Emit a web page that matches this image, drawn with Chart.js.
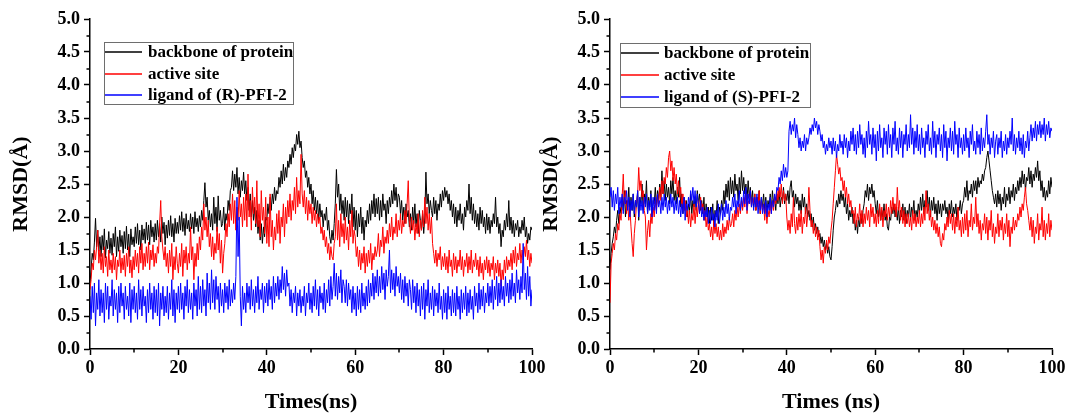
<!DOCTYPE html>
<html>
<head>
<meta charset="utf-8">
<script src="https://cdn.jsdelivr.net/npm/chart.js@4.4.1/dist/chart.umd.min.js"></script>
<style>
  body { margin: 0; background: #fff; width: 1069px; height: 416px; overflow: hidden; position: relative; }
  canvas { position: absolute; top: 0; }
  #leftChart { left: 0; }
  #rightChart { left: 530px; }
</style>
</head>
<body>
<canvas id="leftChart" width="560" height="416"></canvas>
<canvas id="rightChart" width="539" height="416"></canvas>
<script>
// sampling time in ns, one frame every 0.25 ns
const times = Array.from({ length: 401 }, (_, i) => i * 0.25);

const seriesNames = ['backbone of protein', 'active site'];
const seriesColors = ['#000000', '#ff0000', '#0000ff'];

// (R)-PFI-2 run
const leftBackbone = [
  1.00, 1.20, 1.45, 1.35, 1.62, 1.98, 1.55, 1.80, 1.48, 1.70,
  1.40, 1.72, 1.50, 1.82, 1.38, 1.65, 1.52, 1.78, 1.45, 1.68,
  1.42, 1.75, 1.55, 1.85, 1.40, 1.70, 1.48, 1.80, 1.55, 1.72,
  1.45, 1.78, 1.52, 1.86, 1.50, 1.74, 1.40, 1.82, 1.58, 1.70,
  1.55, 1.85, 1.60, 1.90, 1.58, 1.80, 1.50, 1.88, 1.65, 1.82,
  1.60, 1.92, 1.65, 1.88, 1.58, 1.95, 1.70, 1.85, 1.62, 1.90,
  1.65, 1.95, 1.70, 1.90, 1.62, 2.00, 1.75, 1.92, 1.58, 1.88,
  1.68, 1.95, 1.72, 2.02, 1.70, 1.90, 1.62, 1.98, 1.75, 1.92,
  1.75, 2.02, 1.80, 2.08, 1.78, 1.98, 1.72, 2.05, 1.82, 1.95,
  1.78, 2.05, 1.82, 2.00, 1.75, 2.08, 1.85, 1.98, 1.78, 2.02,
  1.85, 2.10, 1.95, 2.25, 2.52, 2.15, 2.30, 1.95, 2.10, 1.85,
  2.05, 1.80, 2.30, 1.90, 2.15, 1.78, 2.32, 1.95, 2.10, 1.85,
  1.90, 2.15, 1.80, 2.05, 1.95, 2.25, 2.10, 2.40, 2.45, 2.70,
  2.40, 2.65, 2.45, 2.75, 2.35, 2.60, 2.30, 2.55, 2.40, 2.68,
  2.35, 2.55, 2.25, 2.45, 2.10, 2.35, 2.00, 2.25, 1.95, 2.15,
  1.85, 2.10, 1.75, 1.95, 1.65, 1.90, 1.60, 1.85, 1.70, 2.00,
  1.95, 2.20, 2.05, 2.30, 2.10, 2.35, 2.20, 2.45, 2.25, 2.40,
  2.35, 2.60, 2.45, 2.70, 2.50, 2.80, 2.55, 2.75, 2.60, 2.85,
  2.75, 2.95, 2.80, 3.05, 2.90, 3.10, 3.00, 3.25, 3.10, 3.30,
  3.05, 3.15, 2.90, 2.75, 2.85, 2.60, 2.70, 2.45, 2.60, 2.35,
  2.50, 2.20, 2.40, 2.10, 2.30, 2.05, 2.25, 1.95, 2.20, 2.00,
  2.10, 1.85, 2.05, 1.95, 2.15, 1.80, 1.95, 1.70, 1.60, 1.80,
  1.65, 1.90, 2.20, 2.72, 2.30, 2.50, 2.10, 2.35, 2.05, 2.25,
  1.95, 2.30, 2.00, 2.25, 1.90, 2.20, 2.05, 2.35, 1.85, 2.15,
  1.80, 2.10, 1.70, 2.05, 1.85, 2.15, 1.75, 2.00, 1.65, 1.95,
  1.85, 2.10, 1.90, 2.20, 1.95, 2.25, 2.05, 2.35, 2.00, 2.28,
  2.05, 2.30, 1.95, 2.25, 2.00, 2.35, 2.10, 2.20, 1.90, 2.25,
  2.05, 2.30, 2.15, 2.40, 2.20, 2.50, 2.25, 2.45, 2.15, 2.35,
  2.30, 2.05, 2.25, 1.95, 2.15, 1.90, 2.20, 2.00, 2.10, 1.85,
  2.05, 1.80, 2.15, 1.90, 2.20, 1.85, 2.05, 1.75, 2.10, 1.95,
  1.80, 2.05, 1.75, 2.00, 2.68, 2.20, 2.35, 2.05, 2.25, 2.10,
  2.00, 2.30, 2.05, 2.25, 1.95, 2.20, 2.10, 2.35, 2.15, 2.40,
  2.25, 2.45, 2.30, 2.40, 2.20, 2.35, 2.10, 2.25, 2.00, 2.20,
  1.90, 2.15, 1.85, 2.10, 1.95, 2.20, 1.90, 2.05, 1.80, 2.15,
  2.00, 2.25, 2.10, 2.50, 2.05, 2.30, 1.95, 2.20, 1.90, 2.10,
  1.85, 2.05, 1.80, 2.15, 1.90, 2.10, 1.85, 2.00, 1.75, 2.05,
  1.80, 2.00, 1.75, 1.95, 1.85, 2.05, 1.90, 2.30, 1.85, 2.00,
  1.75, 1.90, 1.55, 1.80, 1.70, 1.95, 1.80, 2.05, 1.85, 2.25,
  1.80, 2.00, 1.75, 1.95, 1.70, 1.90, 1.80, 1.95, 1.70, 1.85,
  1.75, 1.95, 1.80, 2.00, 1.70, 1.85, 1.60, 1.75, 1.65, 1.85,
  1.80
];
const leftActive = [
  0.90, 1.05, 1.30, 1.20, 1.50, 1.35, 1.55, 1.80, 1.30, 1.50,
  1.20, 1.45, 1.15, 1.55, 1.25, 1.40, 1.10, 1.50, 1.20, 1.35,
  1.15, 1.45, 1.20, 1.40, 1.05, 1.35, 1.25, 1.50, 1.15, 1.38,
  1.20, 1.42, 1.10, 1.45, 1.25, 1.55, 1.15, 1.35, 1.08, 1.40,
  1.20, 1.50, 1.25, 1.45, 1.15, 1.55, 1.30, 1.60, 1.20, 1.45,
  1.25, 1.55, 1.30, 1.62, 1.20, 1.50, 1.35, 1.58, 1.25, 1.45,
  1.30, 1.55, 1.45, 1.90, 2.25, 1.70, 1.50, 1.35, 1.55, 1.25,
  1.45, 1.15, 1.50, 1.25, 1.60, 1.05, 1.40, 1.20, 1.55, 1.30,
  1.15, 1.45, 1.25, 1.60, 1.10, 1.50, 1.30, 1.55, 1.20, 1.45,
  1.30, 1.85, 1.35, 1.55, 1.05, 1.45, 1.25, 1.60, 1.35, 1.70,
  1.50, 1.85, 1.65, 2.20, 1.80, 2.00, 1.70, 1.95, 1.55, 1.75,
  1.40, 1.70, 1.35, 1.60, 1.45, 1.85, 1.50, 1.75, 1.30, 1.65,
  1.15, 1.45, 1.60, 1.90, 1.70, 2.05, 1.85, 2.20, 1.95, 2.35,
  1.90, 2.25, 1.80, 2.15, 1.95, 2.40, 2.00, 2.20, 1.85, 2.30,
  1.95, 2.35, 1.85, 2.65, 2.00, 2.25, 1.80, 2.45, 2.05, 2.30,
  1.90, 2.55, 1.85, 2.20, 1.70, 2.40, 1.95, 2.15, 1.75, 2.30,
  1.60, 2.00, 1.55, 2.35, 1.70, 1.95, 1.50, 1.85, 1.65, 2.05,
  1.75, 2.10, 1.60, 2.00, 1.85, 2.20, 1.70, 2.15, 1.90, 2.25,
  2.00, 2.35, 1.95, 2.25, 2.10, 2.45, 2.05, 2.60, 2.15, 2.40,
  2.20, 2.95, 2.35, 2.15, 2.40, 2.05, 2.30, 1.95, 2.25, 2.05,
  2.20, 1.90, 2.15, 1.95, 2.10, 1.85, 2.05, 1.90, 2.00, 1.75,
  1.85, 1.65, 1.80, 1.55, 1.70, 1.45, 1.60, 1.35, 1.55, 1.40,
  1.35, 1.60, 1.70, 2.20, 1.65, 1.95, 1.55, 2.05, 1.70, 1.90,
  1.60, 2.00, 1.65, 1.85, 1.50, 1.95, 1.70, 2.10, 1.60, 1.80,
  1.70, 1.40, 1.55, 1.25, 1.50, 1.20, 1.45, 1.30, 1.55, 1.15,
  1.45, 1.25, 1.50, 1.30, 1.60, 1.20, 1.45, 1.35, 1.55, 1.40,
  1.50, 1.75, 1.40, 1.65, 1.55, 1.85, 1.45, 1.70, 1.60, 1.80,
  1.60, 1.90, 1.70, 2.00, 1.65, 1.85, 1.75, 2.05, 1.70, 1.95,
  1.80, 2.05, 1.75, 1.95, 1.85, 2.10, 1.90, 2.20, 2.55, 1.95,
  1.75, 2.00, 1.80, 1.95, 1.65, 1.90, 1.75, 2.05, 1.70, 1.95,
  1.80, 2.10, 1.85, 2.30, 1.90, 2.15, 1.80, 2.05, 1.75, 2.00,
  1.60, 1.45, 1.30, 1.50, 1.25, 1.45, 1.35, 1.55, 1.20, 1.40,
  1.25, 1.45, 1.20, 1.40, 1.15, 1.50, 1.25, 1.35, 1.10, 1.45,
  1.20, 1.40, 1.15, 1.35, 1.25, 1.50, 1.20, 1.40, 1.10, 1.35,
  1.25, 1.45, 1.15, 1.40, 1.20, 1.50, 1.15, 1.35, 1.25, 1.45,
  1.20, 1.35, 1.10, 1.40, 1.15, 1.30, 1.05, 1.35, 1.20, 1.40,
  1.15, 1.35, 1.10, 1.30, 1.20, 1.40, 1.05, 1.30, 1.15, 1.35,
  1.10, 1.30, 0.95, 1.20, 1.05, 1.35, 1.15, 1.40, 1.20, 1.35,
  1.25, 1.45, 1.20, 1.50, 1.30, 1.55, 1.25, 1.45, 1.35, 1.60,
  1.30, 1.50, 1.35, 1.55, 1.40, 1.65, 1.35, 1.50, 1.25, 1.45,
  1.30
];
const leftLigand = [
  0.80, 0.45, 0.95, 0.55, 1.00, 0.35, 0.85, 0.60, 1.05, 0.50,
  0.90, 0.55, 0.85, 0.40, 1.00, 0.60, 0.95, 0.45, 0.80, 0.65,
  1.05, 0.50, 0.90, 0.60, 0.85, 0.40, 0.95, 0.55, 1.00, 0.65,
  0.85, 0.45, 0.95, 0.60, 0.80, 0.50, 1.00, 0.40, 0.90, 0.60,
  0.95, 0.55, 0.85, 0.45, 1.05, 0.60, 0.90, 0.50, 0.95, 0.65,
  0.80, 0.40, 0.90, 0.55, 1.00, 0.60, 0.85, 0.45, 0.95, 0.55,
  0.90, 0.50, 1.00, 0.35, 0.85, 0.60, 0.95, 0.50, 0.80, 0.55,
  0.95, 0.45, 0.85, 0.60, 1.05, 0.50, 0.90, 0.40, 0.85, 0.60,
  0.95, 0.55, 1.00, 0.60, 0.85, 0.45, 0.95, 0.65, 1.05, 0.55,
  0.90, 0.60, 0.85, 0.45, 1.00, 0.65, 0.90, 0.50, 1.10, 0.60,
  0.95, 0.55, 1.05, 0.65, 0.90, 0.50, 1.15, 0.70, 1.00, 0.60,
  1.20, 0.70, 1.05, 0.60, 1.10, 0.75, 0.95, 0.55, 1.00, 0.65,
  0.90, 0.55, 1.00, 0.70, 0.95, 0.60, 1.05, 0.65, 0.90, 0.70,
  1.00, 0.75, 1.10, 2.30, 1.40, 2.00, 0.80, 0.35, 0.95, 0.60,
  0.85, 0.55, 1.00, 0.70, 0.95, 0.60, 1.05, 0.65, 0.90, 0.55,
  0.95, 0.70, 1.10, 0.60, 0.90, 0.75, 1.00, 0.55, 0.95, 0.70,
  1.00, 0.65, 1.05, 0.75, 0.95, 0.60, 1.10, 0.70, 1.00, 0.80,
  1.10, 0.75, 1.05, 0.85, 1.25, 0.90, 1.15, 0.80, 1.20, 0.95,
  1.00, 0.65, 0.90, 0.55, 0.85, 0.70, 0.95, 0.50, 0.85, 0.65,
  0.90, 0.55, 0.80, 0.65, 0.95, 0.50, 0.85, 0.70, 1.00, 0.60,
  0.85, 0.55, 0.95, 0.65, 1.05, 0.60, 0.90, 0.50, 0.95, 0.70,
  0.85, 0.60, 1.00, 0.55, 0.90, 0.70, 1.05, 0.65, 1.10, 0.75,
  0.95, 1.30, 0.80, 1.15, 0.75, 1.10, 0.85, 1.20, 0.70, 1.05,
  0.95, 0.70, 1.05, 0.65, 1.00, 0.75, 0.90, 0.55, 0.95, 0.60,
  0.85, 0.50, 0.95, 0.60, 0.90, 0.55, 1.00, 0.65, 0.85, 0.60,
  0.95, 0.65, 1.05, 0.70, 1.00, 0.80, 1.15, 0.75, 1.10, 0.85,
  1.20, 0.80, 1.10, 0.85, 1.25, 0.90, 1.15, 0.75, 1.20, 0.95,
  1.10, 1.50, 0.85, 1.20, 0.90, 1.15, 0.80, 1.25, 0.95, 1.10,
  0.85, 1.15, 0.75, 1.05, 0.70, 1.10, 0.80, 1.00, 0.65, 1.05,
  0.90, 0.60, 1.05, 0.70, 0.95, 0.55, 1.00, 0.65, 0.90, 0.50,
  0.95, 0.60, 1.00, 0.45, 0.90, 0.65, 1.05, 0.55, 0.85, 0.60,
  0.95, 0.50, 0.90, 0.65, 0.85, 0.55, 1.00, 0.60, 0.80, 0.45,
  0.90, 0.55, 0.85, 0.45, 0.95, 0.60, 0.80, 0.50, 0.90, 0.55,
  0.85, 0.50, 0.95, 0.60, 0.80, 0.45, 0.90, 0.55, 0.85, 0.60,
  0.95, 0.50, 0.85, 0.55, 0.90, 0.60, 0.80, 0.45, 0.95, 0.65,
  0.85, 0.55, 1.00, 0.60, 0.90, 0.65, 0.95, 0.55, 0.85, 0.70,
  1.00, 0.65, 0.95, 0.70, 1.05, 0.60, 0.95, 0.75, 1.10, 0.65,
  1.00, 0.70, 1.05, 0.75, 0.95, 0.65, 1.10, 0.80, 1.00, 0.70,
  1.05, 0.75, 1.15, 0.80, 1.00, 0.70, 1.20, 0.85, 1.05, 0.75,
  1.10, 0.85, 1.60, 0.90, 1.15, 0.75, 1.25, 0.80, 1.10, 0.65,
  0.90
];

// (S)-PFI-2 run
const rightBackbone = [
  1.20, 1.45, 1.60, 1.70, 1.85, 1.75, 1.95, 2.10, 1.90, 2.15,
  2.05, 2.30, 2.10, 2.40, 2.00, 2.25, 2.15, 2.45, 2.05, 2.30,
  2.10, 2.35, 2.00, 2.25, 2.15, 2.40, 1.95, 2.30, 2.20, 2.50,
  2.10, 2.35, 2.20, 2.55, 2.05, 2.30, 2.15, 2.40, 2.00, 2.25,
  2.20, 2.45, 2.15, 2.40, 2.25, 2.50, 2.30, 2.70, 2.35, 2.55,
  2.25, 2.50, 2.30, 2.45, 2.20, 2.55, 2.35, 2.60, 2.25, 2.40,
  2.20, 2.45, 2.30, 2.60, 2.15, 2.35, 2.05, 2.30, 2.10, 2.25,
  2.00, 2.20, 2.10, 2.35, 2.05, 2.25, 2.15, 2.30, 2.10, 2.40,
  2.20, 2.35, 2.10, 2.25, 2.05, 2.30, 1.95, 2.20, 2.00, 2.15,
  1.90, 2.15, 1.95, 2.20, 1.85, 2.10, 2.00, 2.25, 1.90, 2.15,
  2.05, 2.25, 2.10, 2.40, 2.20, 2.50, 2.30, 2.55, 2.25, 2.60,
  2.35, 2.55, 2.30, 2.65, 2.40, 2.50, 2.25, 2.60, 2.35, 2.70,
  2.40, 2.60, 2.35, 2.50, 2.25, 2.55, 2.30, 2.45, 2.20, 2.40,
  2.15, 2.35, 2.10, 2.30, 2.20, 2.40, 2.05, 2.30, 2.15, 2.35,
  2.10, 2.30, 2.05, 2.25, 2.15, 2.35, 2.10, 2.40, 2.20, 2.30,
  2.10, 2.35, 2.20, 2.40, 2.15, 2.30, 2.25, 2.45, 2.20, 2.35,
  2.25, 2.40, 2.20, 2.45, 2.55, 2.30, 2.40, 2.15, 2.35, 2.20,
  2.30, 2.10, 2.25, 2.05, 2.35, 2.15, 2.30, 2.05, 2.20, 2.00,
  2.10, 1.95, 2.05, 1.85, 2.00, 1.80, 1.90, 1.75, 1.85, 1.70,
  1.75, 1.60, 1.70, 1.55, 1.65, 1.50, 1.60, 1.45, 1.55, 1.40,
  1.35, 1.55, 1.80, 2.00, 2.10, 2.25, 2.15, 2.35, 2.20, 2.40,
  2.25, 2.35, 2.15, 2.30, 2.05, 2.20, 1.95, 2.10, 2.00, 2.15,
  1.90, 2.05, 1.80, 1.95, 1.75, 2.00, 1.85, 2.05, 1.90, 2.10,
  2.20, 2.40, 2.30, 2.50, 2.25, 2.45, 2.35, 2.50, 2.30, 2.40,
  2.20, 2.05, 2.25, 2.00, 2.15, 1.95, 2.10, 2.00, 2.20, 1.95,
  2.05, 1.85, 1.80, 2.00, 1.95, 2.15, 2.05, 2.20, 2.00, 2.15,
  1.95, 2.15, 1.90, 2.10, 2.00, 2.20, 1.95, 2.15, 1.90, 2.10,
  2.00, 2.20, 1.95, 2.15, 2.05, 2.25, 1.95, 2.10, 2.00, 2.20,
  2.05, 2.30, 2.10, 2.35, 2.05, 2.25, 2.15, 2.40, 2.10, 2.30,
  2.00, 2.25, 2.10, 2.30, 2.05, 2.20, 1.95, 2.25, 2.05, 2.20,
  2.00, 2.20, 2.10, 2.25, 2.05, 2.15, 1.95, 2.20, 2.05, 2.25,
  2.00, 2.15, 2.05, 2.20, 1.95, 2.15, 2.10, 2.25, 2.05, 2.20,
  2.25, 2.45, 2.30, 2.55, 2.25, 2.40, 2.35, 2.50, 2.30, 2.55,
  2.40, 2.55, 2.35, 2.60, 2.45, 2.55, 2.50, 2.65, 2.55, 2.70,
  2.75, 2.90, 3.00, 2.85, 2.70, 2.55, 2.40, 2.30, 2.20, 2.35,
  2.15, 2.40, 2.20, 2.35, 2.10, 2.30, 2.20, 2.45, 2.15, 2.35,
  2.25, 2.45, 2.20, 2.40, 2.30, 2.50, 2.25, 2.45, 2.35, 2.55,
  2.40, 2.60, 2.45, 2.70, 2.50, 2.65, 2.40, 2.60, 2.55, 2.75,
  2.50, 2.70, 2.45, 2.65, 2.55, 2.75, 2.60, 2.85, 2.55, 2.70,
  2.40, 2.55, 2.30, 2.45, 2.25, 2.40, 2.30, 2.55, 2.35, 2.60,
  2.45
];
const rightActive = [
  0.70, 1.30, 1.45, 1.60, 1.50, 1.75, 1.65, 1.90, 1.80, 2.05,
  1.95, 2.30, 2.65, 2.20, 2.40, 2.05, 2.25, 1.95, 2.15, 1.85,
  1.60, 1.40, 1.75, 1.95, 2.20, 2.35, 2.75, 2.40, 2.55, 2.30,
  2.40, 2.10, 2.00, 1.50, 1.80, 1.95, 1.70, 2.05, 1.90, 2.15,
  2.00, 2.25, 2.10, 2.35, 2.20, 2.45, 2.25, 2.55, 2.35, 2.60,
  2.50, 2.75, 2.60, 2.90, 3.00, 2.70, 2.85, 2.55, 2.75, 2.50,
  2.65, 2.35, 2.55, 2.30, 2.45, 2.15, 2.35, 2.10, 2.25, 2.00,
  2.15, 1.90, 2.10, 1.85, 2.05, 1.95, 2.20, 1.90, 2.15, 2.00,
  2.25, 2.05, 2.30, 2.10, 2.20, 1.95, 2.10, 1.85, 2.00, 1.80,
  1.90, 1.70, 1.85, 1.65, 1.95, 1.75, 1.90, 1.70, 1.85, 1.65,
  1.80, 1.65, 1.90, 1.70, 1.85, 1.75, 1.95, 1.80, 2.00, 1.85,
  1.90, 2.05, 1.85, 2.10, 1.95, 2.15, 2.00, 2.20, 2.05, 2.25,
  2.10, 2.30, 2.15, 2.35, 2.05, 2.25, 2.20, 2.40, 2.15, 2.30,
  2.20, 2.35, 2.10, 2.30, 2.15, 2.40, 2.05, 2.25, 2.10, 2.20,
  1.95, 2.15, 1.90, 2.10, 2.00, 2.20, 2.05, 2.25, 2.10, 2.30,
  2.20, 2.40, 2.25, 2.45, 2.30, 2.50, 2.20, 2.40, 2.25, 2.35,
  2.00, 1.80, 1.95, 1.75, 2.05, 1.85, 2.30, 1.90, 1.75, 2.00,
  1.80, 2.05, 1.85, 2.10, 1.75, 2.00, 1.90, 2.15, 1.85, 2.05,
  2.45, 2.10, 1.85, 1.95, 1.75, 1.90, 1.70, 1.85, 1.65, 1.80,
  1.55, 1.35, 1.50, 1.30, 1.55, 1.45, 1.65, 1.50, 1.70, 1.60,
  1.80, 1.95, 2.20, 2.45, 2.70, 2.95, 2.80, 2.65, 2.75, 2.55,
  2.60, 2.40, 2.55, 2.30, 2.45, 2.20, 2.35, 2.15, 2.25, 2.05,
  2.10, 1.90, 2.15, 1.85, 2.05, 1.95, 2.20, 1.90, 2.10, 1.85,
  2.05, 1.90, 2.15, 1.95, 2.10, 1.85, 2.20, 2.00, 2.15, 1.90,
  2.05, 1.85, 2.10, 1.90, 2.20, 1.95, 2.15, 1.85, 2.10, 2.00,
  2.20, 1.95, 2.15, 2.00, 2.25, 2.05, 2.30, 2.10, 2.20, 2.00,
  2.45, 2.10, 2.25, 1.95, 2.15, 1.90, 2.10, 1.85, 2.05, 1.90,
  2.05, 1.85, 2.00, 1.80, 2.10, 1.90, 2.05, 1.85, 2.00, 1.90,
  2.10, 1.85, 2.05, 1.90, 2.15, 1.95, 2.40, 2.05, 2.20, 1.95,
  2.10, 1.85, 2.00, 1.80, 1.95, 1.75, 1.90, 1.70, 1.85, 1.60,
  1.55, 1.75, 1.65, 1.90, 1.80, 2.00, 1.85, 2.10, 1.90, 2.05,
  1.80, 2.05, 1.75, 2.00, 1.85, 2.15, 1.80, 1.95, 1.70, 2.00,
  1.75, 2.05, 1.80, 2.10, 1.70, 1.95, 1.85, 2.20, 1.80, 2.00,
  1.90, 2.30, 1.85, 2.05, 1.75, 1.95, 1.65, 1.90, 1.80, 2.05,
  1.75, 2.00, 1.65, 1.95, 1.80, 2.10, 1.70, 1.90, 1.60, 1.85,
  1.75, 2.05, 1.70, 1.95, 1.80, 2.00, 1.65, 1.90, 1.75, 2.05,
  1.70, 1.95, 1.55, 1.85, 1.75, 2.00, 1.80, 1.95, 1.85, 2.05,
  1.95, 2.15, 2.00, 2.20, 2.10, 2.30, 2.45, 2.20, 2.10, 1.95,
  1.80, 2.00, 1.70, 1.95, 1.60, 1.85, 1.75, 2.05, 1.65, 1.90,
  1.80, 2.15, 1.70, 1.95, 1.65, 1.90, 1.75, 2.05, 1.70, 1.95,
  1.80
];
const rightLigand = [
  2.30, 2.45, 2.15, 2.40, 2.10, 2.35, 2.20, 2.45, 2.05, 2.30,
  2.15, 2.35, 2.05, 2.30, 2.20, 2.40, 2.10, 2.30, 2.00, 2.25,
  2.10, 2.35, 2.05, 2.25, 2.15, 2.40, 2.00, 2.30, 2.10, 2.25,
  2.05, 2.30, 2.15, 2.35, 2.05, 2.25, 2.10, 2.35, 2.00, 2.30,
  2.10, 2.30, 2.05, 2.35, 2.15, 2.25, 2.05, 2.30, 2.10, 2.35,
  2.15, 2.30, 2.05, 2.25, 2.10, 2.35, 2.15, 2.30, 2.05, 2.25,
  2.10, 2.30, 2.05, 2.25, 2.00, 2.20, 2.05, 2.30, 1.95, 2.20,
  2.10, 2.30, 2.15, 2.40, 2.25, 2.45, 2.20, 2.40, 2.15, 2.35,
  2.20, 2.05, 2.25, 2.00, 2.15, 1.95, 2.10, 2.00, 2.15, 1.90,
  2.10, 1.90, 2.15, 1.95, 2.05, 1.85, 2.10, 1.95, 2.20, 1.90,
  2.05, 2.20, 1.95, 2.15, 2.00, 2.25, 2.05, 2.20, 1.95, 2.15,
  2.10, 2.30, 2.15, 2.35, 2.05, 2.25, 2.15, 2.40, 2.10, 2.30,
  2.15, 2.40, 2.20, 2.45, 2.10, 2.35, 2.20, 2.40, 2.15, 2.30,
  2.10, 2.30, 2.15, 2.35, 2.05, 2.25, 2.10, 2.30, 2.05, 2.20,
  2.05, 2.25, 2.00, 2.20, 2.10, 2.30, 2.05, 2.25, 2.15, 2.35,
  2.25, 2.45, 2.40, 2.60, 2.50, 2.70, 2.55, 2.80, 2.60, 2.75,
  2.60, 2.70, 3.30, 3.45, 3.25, 3.40, 3.30, 3.50, 3.20, 3.40,
  3.25, 3.05, 3.20, 3.00, 3.15, 3.05, 3.25, 3.00, 3.20, 3.10,
  3.20, 3.35, 3.25, 3.40, 3.30, 3.50, 3.35, 3.45, 3.25, 3.40,
  3.30, 3.15, 3.25, 3.05, 3.15, 2.95, 3.10, 3.00, 3.20, 3.05,
  3.15, 2.95, 3.20, 3.00, 3.15, 2.90, 3.10, 3.00, 3.25, 3.05,
  3.15, 2.95, 3.25, 3.05, 3.20, 2.90, 3.15, 3.00, 3.30, 3.10,
  3.35, 3.00, 3.25, 2.95, 3.30, 3.05, 3.40, 3.10, 3.25, 2.95,
  3.20, 2.90, 3.30, 3.05, 3.45, 3.10, 3.25, 2.95, 3.35, 3.05,
  3.25, 2.85, 3.30, 3.00, 3.40, 3.05, 3.20, 2.90, 3.35, 3.10,
  3.30, 2.95, 3.40, 3.05, 3.25, 2.90, 3.35, 3.10, 3.45, 3.00,
  3.20, 2.95, 3.35, 3.05, 3.30, 2.90, 3.25, 3.10, 3.40, 3.00,
  3.25, 3.05, 3.55, 3.10, 3.35, 2.95, 3.30, 3.05, 3.40, 3.00,
  3.25, 2.95, 3.35, 3.05, 3.20, 2.90, 3.30, 3.10, 3.40, 3.00,
  3.20, 2.95, 3.45, 3.05, 3.30, 2.90, 3.25, 3.10, 3.35, 3.00,
  3.25, 2.90, 3.40, 3.05, 3.30, 2.85, 3.20, 3.05, 3.35, 3.00,
  3.30, 2.95, 3.45, 3.10, 3.25, 2.90, 3.35, 3.05, 3.20, 2.95,
  3.25, 3.00, 3.35, 3.05, 3.20, 2.90, 3.30, 3.10, 3.40, 3.00,
  3.15, 2.95, 3.30, 3.05, 3.25, 2.95, 3.35, 3.00, 3.20, 3.05,
  3.30, 3.55, 3.10, 3.25, 2.95, 3.20, 3.05, 3.30, 2.90, 3.15,
  3.25, 2.95, 3.20, 3.05, 3.30, 2.90, 3.15, 3.00, 3.25, 2.95,
  3.20, 3.05, 3.30, 3.10, 3.50, 3.00, 3.25, 2.95, 3.20, 3.05,
  3.30, 3.00, 3.20, 2.95, 3.25, 2.90, 3.15, 3.05, 3.30, 3.00,
  3.20, 3.40, 3.15, 3.35, 3.20, 3.45, 3.15, 3.40, 3.25, 3.45,
  3.20, 3.40, 3.25, 3.50, 3.15, 3.40, 3.25, 3.45, 3.20, 3.35,
  3.30
];

const serif = 'Liberation Serif, Times New Roman, serif';

// short outside minor ticks between the labelled ones
const minorTicks = {
  id: 'minorTicks',
  afterDraw(chart) {
    const { ctx, scales: { x, y } } = chart;
    ctx.save();
    ctx.strokeStyle = '#000';
    ctx.lineWidth = 1.5;
    ctx.beginPath();
    for (let v = 0.25; v < 5; v += 0.5) {
      const py = Math.round(y.getPixelForValue(v));
      ctx.moveTo(x.left - 3.5, py);
      ctx.lineTo(x.left, py);
    }
    for (let v = 10; v < 100; v += 20) {
      const px = Math.round(x.getPixelForValue(v));
      ctx.moveTo(px, y.bottom);
      ctx.lineTo(px, y.bottom + 3.5);
    }
    ctx.stroke();
    ctx.restore();
  }
};

// Origin-style framed legend inside the plot
const boxLegend = {
  id: 'boxLegend',
  afterDraw(chart, args, o) {
    const ctx = chart.ctx;
    ctx.save();
    ctx.fillStyle = '#fff';
    ctx.fillRect(o.x, o.y, o.w, o.h);
    ctx.strokeStyle = '#6e6e6e';
    ctx.lineWidth = 1;
    ctx.strokeRect(o.x + 0.5, o.y + 0.5, o.w, o.h);
    ctx.font = 'bold 17px ' + serif;
    ctx.textBaseline = 'middle';
    chart.data.datasets.forEach((ds, i) => {
      const cy = Math.round(o.y + o.rowTop + i * o.rowGap);
      ctx.strokeStyle = seriesColors[i];
      ctx.lineWidth = 1.5;
      ctx.beginPath();
      ctx.moveTo(o.x + 1, cy);
      ctx.lineTo(o.x + o.lineLen, cy);
      ctx.stroke();
      ctx.fillStyle = '#000';
      ctx.fillText(ds.label, o.x + o.textOff, cy + 1);
    });
    ctx.restore();
  }
};

function makeChart(id, backbone, active, ligand, ligandName, xTitle, axisWidth, rightPad, legendBox) {
  const tickFont = { family: serif, size: 18, weight: 'bold' };
  const titleFont = { family: serif, size: 22, weight: 'bold' };
  return new Chart(document.getElementById(id), {
    type: 'line',
    data: {
      labels: times,
      datasets: [
        { label: seriesNames[0], data: backbone, borderColor: seriesColors[0], order: 3 },
        { label: seriesNames[1], data: active, borderColor: seriesColors[1], order: 2 },
        { label: ligandName, data: ligand, borderColor: seriesColors[2], order: 1 }
      ]
    },
    options: {
      responsive: false,
      animation: false,
      devicePixelRatio: 1,
      elements: {
        line: { borderWidth: 1, tension: 0 },
        point: { radius: 0, hoverRadius: 0 }
      },
      layout: { padding: { top: 19, right: rightPad, left: 0, bottom: 0 } },
      plugins: {
        legend: { display: false },
        tooltip: { enabled: false },
        boxLegend: legendBox
      },
      scales: {
        x: {
          type: 'linear', min: 0, max: 100,
          ticks: { stepSize: 20, color: '#000', font: tickFont, maxRotation: 0, padding: 3 },
          grid: { drawOnChartArea: false, color: '#000', tickLength: 6, tickWidth: 1.5 },
          border: { color: '#000', width: 1.5 },
          title: { display: true, text: xTitle, color: '#000', font: titleFont, padding: { top: 0, bottom: 0 } },
          afterFit: s => { s.height = 67; }
        },
        y: {
          min: 0, max: 5,
          ticks: { stepSize: 0.5, color: '#000', font: tickFont, padding: 4, callback: v => v.toFixed(1) },
          grid: { drawOnChartArea: false, color: '#000', tickLength: 6, tickWidth: 1.5 },
          border: { color: '#000', width: 1.5 },
          title: { display: true, text: 'RMSD(Å)', color: '#000', font: titleFont, padding: { top: 8, bottom: 0 } },
          afterFit: s => { s.width = axisWidth; }
        }
      }
    },
    plugins: [minorTicks, boxLegend]
  });
}

makeChart('leftChart', leftBackbone, leftActive, leftLigand, 'ligand of (R)-PFI-2', 'Times(ns)', 90, 28,
  { x: 104, y: 42, w: 189, h: 62, rowTop: 10, rowGap: 21.5, lineLen: 38, textOff: 44 });
makeChart('rightChart', rightBackbone, rightActive, rightLigand, 'ligand of (S)-PFI-2', 'Times (ns)', 80, 17,
  { x: 90, y: 43, w: 190, h: 64, rowTop: 10, rowGap: 22, lineLen: 39, textOff: 44 });
</script>
</body>
</html>
